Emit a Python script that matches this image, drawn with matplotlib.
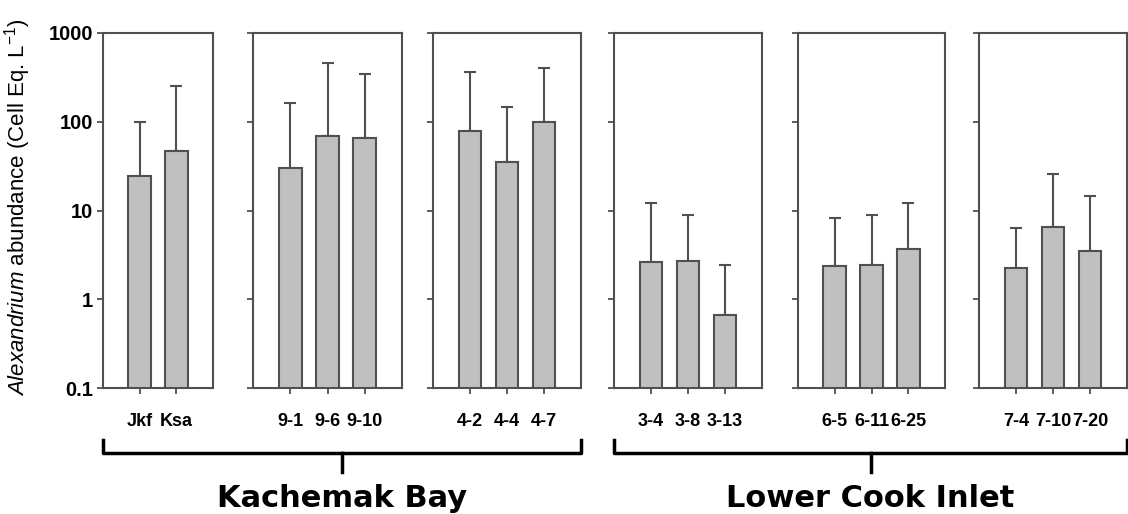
import matplotlib.pyplot as plt
from matplotlib.lines import Line2D

# Sample stations, grouped by panel
labels = [
    ["Jkf", "Ksa"],
    ["9-1", "9-6", "9-10"],
    ["4-2", "4-4", "4-7"],
    ["3-4", "3-8", "3-13"],
    ["6-5", "6-11", "6-25"],
    ["7-4", "7-10", "7-20"],
]
# Mean abundance (cell eq. per L)
means = [
    [24.4, 46.8],
    [30.4, 68.4, 66.0],
    [78.5, 35.5, 99.0],
    [2.65, 2.70, 0.67],
    [2.37, 2.43, 3.72],
    [2.27, 6.58, 3.47],
]
# Top of upper error bar
err_top = [
    [100.0, 251.0],
    [162.0, 457.0, 341.0],
    [359.0, 145.0, 405.0],
    [12.2, 8.8, 2.43],
    [8.2, 8.8, 12.0],
    [6.35, 25.8, 14.6],
]
regions = ["Kachemak Bay", "Lower Cook Inlet"]
region_panels = [(0, 2), (3, 5)]
yticks = [0.1, 1, 10, 100, 1000]
ytick_labels = ["0.1", "1", "10", "100", "1000"]

# Layout in pixels (figure is 1128 x 514)
W, H = 1128, 514
panel_left = [103, 253, 433, 614, 798, 979]
panel_right = [213, 402, 581, 762, 945, 1127]
ax_top, ax_bottom = 33, 388

BAR_COLOR = "#c0c0c0"
EDGE = "#505050"

plt.rcParams["font.family"] = ["Liberation Sans", "DejaVu Sans"]
plt.rcParams["mathtext.fontset"] = "custom"
plt.rcParams["mathtext.rm"] = "Liberation Sans"
plt.rcParams["mathtext.it"] = "Liberation Sans:italic"

fig = plt.figure(figsize=(W / 100, H / 100), dpi=100)

axes = []
for i, (labs, vals, tops) in enumerate(zip(labels, means, err_top)):
    rect = [
        panel_left[i] / W,
        1 - ax_bottom / H,
        (panel_right[i] - panel_left[i]) / W,
        (ax_bottom - ax_top) / H,
    ]
    ax = fig.add_axes(rect)
    x = list(range(len(labs)))
    upper = [t - v for t, v in zip(tops, vals)]
    ax.errorbar(
        x, vals, yerr=[[0] * len(vals), upper], fmt="none",
        ecolor=EDGE, elinewidth=1.5, capsize=4.5, capthick=1.5, zorder=1,
    )
    ax.bar(x, vals, width=0.62, color=BAR_COLOR, edgecolor=EDGE,
           linewidth=1.5, zorder=2)
    ax.set_yscale("log")
    ax.set_ylim(0.1, 1000)
    ax.set_xlim(-1, len(labs))
    ax.set_yticks(yticks)
    ax.minorticks_off()
    ax.set_xticks(x)
    ax.set_xticklabels(labs, fontsize=13, fontweight="bold")
    if i == 0:
        ax.set_yticklabels(ytick_labels, fontsize=14.5, fontweight="bold")
        ax.set_ylabel(r"$\it{Alexandrium}$ abundance (Cell Eq. L$^{-1}$)",
                      fontsize=16)
        ax.yaxis.set_label_coords(-0.64, 0.51)
    else:
        ax.set_yticklabels([])
    ax.tick_params(axis="y", direction="out", length=4, width=1.3,
                   color=EDGE, pad=3)
    ax.tick_params(axis="x", direction="out", length=4, width=1.3,
                   color=EDGE, pad=14)
    for s in ax.spines.values():
        s.set_color(EDGE)
        s.set_linewidth(1.5)
    axes.append(ax)

# Region brackets under the panels
br_top, br_line, br_tick = 440, 453, 472
for name, (a, b) in zip(regions, region_panels):
    x0 = axes[a].get_position().x0
    x1 = axes[b].get_position().x1
    xm = (x0 + x1) / 2
    yt, yl, yk = 1 - br_top / H, 1 - br_line / H, 1 - br_tick / H
    fig.add_artist(Line2D([x0, x0, x1, x1], [yt, yl, yl, yt],
                          color="black", linewidth=2.5))
    fig.add_artist(Line2D([xm, xm], [yl, yk], color="black", linewidth=2.5))
    fig.text(xm, 1 - 484 / H, name, ha="center", va="top", fontsize=22,
             fontweight="bold", family=["DejaVu Sans"])

fig.savefig("out.png", dpi=100, facecolor="white")
